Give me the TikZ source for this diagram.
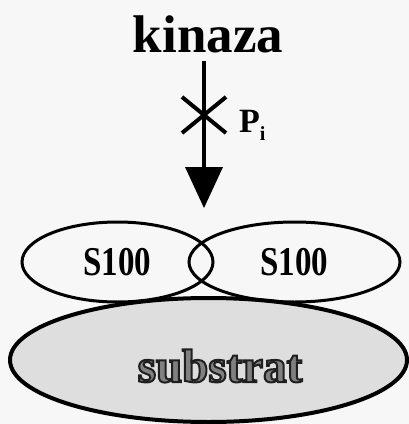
\documentclass[tikz,border=0pt]{standalone}
\usepackage{fontspec}
\setmainfont{Liberation Serif}
\usepackage{graphicx}
\usetikzlibrary{arrows.meta}
\usetikzlibrary{positioning}
\usetikzlibrary{shapes, shapes.geometric}

% outlined letters (fill + stroke render mode)
\newcommand{\outlinedtext}[1]{\special{pdf:code 2 Tr 2 w 0.12 G}#1\special{pdf:code 0 Tr}}

\begin{document}
\begin{tikzpicture}[x=1pt, y=-1pt, every node/.style={inner sep=0pt, font=\bfseries}, protein/.style={ellipse, draw, line width=3pt}]

\fill[black!3] (0,0) rectangle (409,424);

\node[protein, fill=black!13, line width=4pt, minimum width=397pt, minimum height=124pt] (substrat) at (208.5,360) {};
\node[protein, minimum width=191pt, minimum height=80pt] (leftS100) at (117.5,262) {\fontsize{33}{33}\selectfont\scalebox{1}[1.24]{S100}};
\node[protein, minimum width=211pt, minimum height=80pt] (rightS100) at (294.5,262) {\fontsize{33}{33}\selectfont\scalebox{1}[1.24]{S100}};

\node[anchor=base, font=\bfseries\fontsize{53}{53}\selectfont] (kinaza) at (208,52) {kinaza};

\coordinate (tip) at (204,208);
\coordinate (cross) at (204,115);
\draw[line width=4pt, shorten <=8pt, -{Triangle[length=41pt, width=38pt, line width=0pt]}] ([xshift=-4pt]kinaza.south) -- (tip);
\draw[line width=4pt] ([shift={(-22,-18)}]cross) -- ([shift={(22,18)}]cross);
\draw[line width=4pt] ([shift={(22,-18)}]cross) -- ([shift={(-22,18)}]cross);

\node[anchor=base west, font=\bfseries\fontsize{34}{34}\selectfont] (pi) at (239,132) {P{\fontsize{20}{20}\selectfont\raisebox{-8pt}{i}}};

\node[anchor=base, font=\bfseries\fontsize{47}{47}\selectfont, text=black!50] (substratlabel) at (220,382) {\outlinedtext{substrat}};

\end{tikzpicture}
\end{document}
